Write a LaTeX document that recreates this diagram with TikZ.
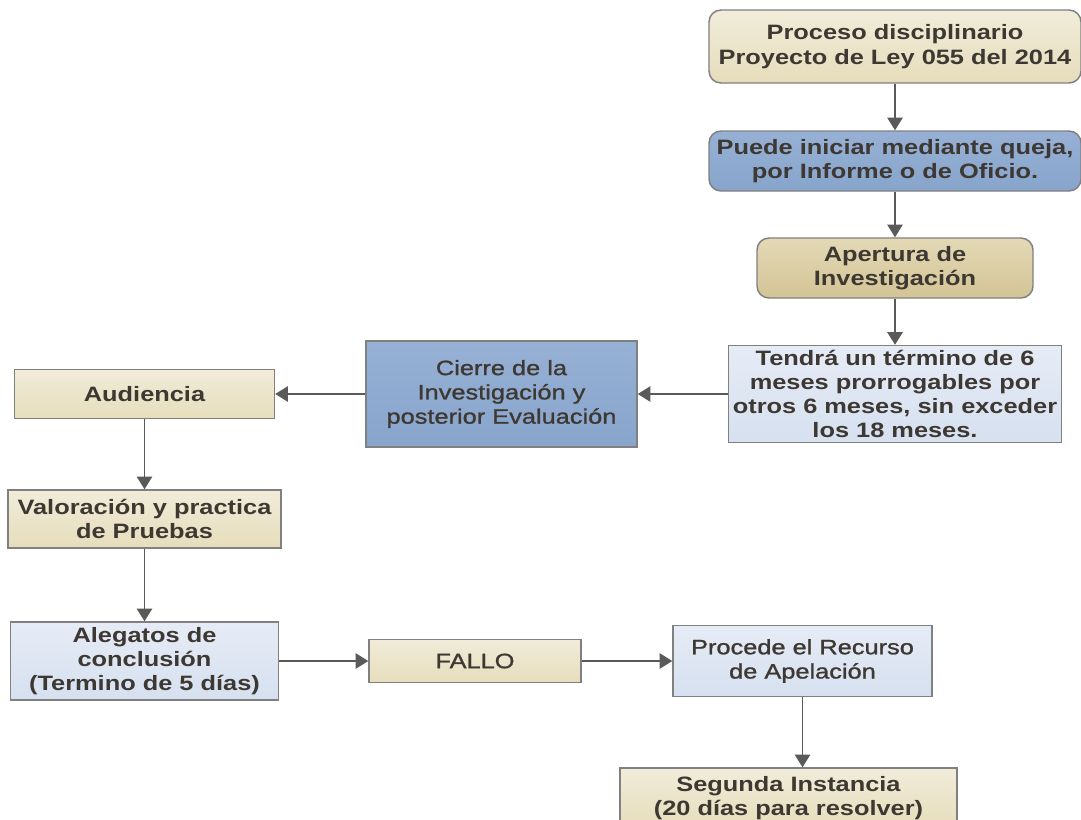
\documentclass[tikz,border=0pt]{standalone}
\usepackage{fontspec}
\usetikzlibrary{arrows.meta}
\newfontfamily\bxfont{Liberation Sans}[FakeStretch=1.22]
\newfontfamily\mdfont{Liberation Sans}[FakeStretch=1.22,FakeBold=1.2]
\definecolor{txt}{HTML}{3E3833}
\definecolor{bordergray}{HTML}{808080}
\definecolor{arrowgray}{HTML}{5A5A5A}
\definecolor{creamT}{HTML}{F1ECDA}
\definecolor{creamB}{HTML}{E6DDBB}
\definecolor{blueT}{HTML}{97B1D5}
\definecolor{blueB}{HTML}{87A4CB}
\definecolor{tanT}{HTML}{E4D9B6}
\definecolor{tanB}{HTML}{D3C495}
\definecolor{lblueT}{HTML}{E6ECF6}
\definecolor{lblueB}{HTML}{D6E0EF}
\tikzset{
  box/.style={draw=bordergray, line width=1.1pt, inner sep=0pt, align=center,
    text=txt, font=\bxfont\bfseries\fontsize{15.6}{18.2}\selectfont},
  thinbox/.style={box, font=\mdfont\fontsize{15.6}{18.2}\selectfont},
  cream/.style={top color=creamT, bottom color=creamB},
  bluef/.style={top color=blueT, bottom color=blueB},
  tanf/.style={top color=tanT, bottom color=tanB},
  lblue/.style={top color=lblueT, bottom color=lblueB},
  rnd/.style={rounded corners=9pt},
  conn/.style={draw=arrowgray, line width=1.3pt, -{Triangle[width=11.5pt,length=9.5pt]}}
}
\begin{document}
\begin{tikzpicture}[x=0.75pt,y=-0.75pt]
\useasboundingbox (0,0) rectangle (1081,819);
\fill[white] (0,0) rectangle (1081,819);
\clip (0,0) rectangle (1081,819);

\node[box,cream,rnd,minimum width=279pt,minimum height=54.75pt] (p1) at (895,46.5)
  {Proceso disciplinario\\Proyecto de Ley 055 del 2014};
\node[box,bluef,rnd,minimum width=279pt,minimum height=45pt] (p2) at (895,161)
  {Puede iniciar mediante queja,\\por Informe o de Oficio.};
\node[box,tanf,rnd,minimum width=207pt,minimum height=45pt] (p3) at (895,268)
  {Apertura de\\Investigación};
\node[box,lblue,minimum width=249.75pt,minimum height=72.75pt] (p4) at (895,394)
  {Tendrá un término de 6\\meses prorrogables por\\otros 6 meses, sin exceder\\los 18 meses.};
\node[thinbox,bluef,minimum width=203.25pt,minimum height=79.5pt] (cie) at (501.5,394)
  {Cierre de la\\Investigación y\\posterior Evaluación};
\node[box,cream,minimum width=195pt,minimum height=36.75pt] (aud) at (144.5,394)
  {Audiencia};
\node[box,cream,minimum width=204.75pt,minimum height=43.5pt] (val) at (144.5,519)
  {Valoración y practica\\de Pruebas};
\node[box,lblue,minimum width=201pt,minimum height=58.5pt] (ale) at (144.5,661)
  {Alegatos de\\conclusión\\(Termino de 5 días)};
\node[thinbox,cream,minimum width=159pt,minimum height=32.25pt] (fal) at (475,661)
  {FALLO};
\node[thinbox,lblue,minimum width=194.25pt,minimum height=53.25pt] (pro) at (802.5,661)
  {Procede el Recurso\\de Apelación};
\node[box,cream,minimum width=252.75pt,minimum height=45pt] (seg) at (788.5,798)
  {Segunda Instancia\\(20 días para resolver)};

\draw[conn] (p1.south) -- (p2.north);
\draw[conn] (p2.south) -- (p3.north);
\draw[conn] (p3.south) -- (p4.north);
\draw[conn] (p4.west) -- (cie.east);
\draw[conn] (cie.west) -- (aud.east);
\draw[conn] (aud.south) -- (val.north);
\draw[conn] (val.south) -- (ale.north);
\draw[conn] (ale.east) -- (fal.west);
\draw[conn] (fal.east) -- (pro.west);
\draw[conn] (pro.south) -- (pro.south |- seg.north);
\end{tikzpicture}
\end{document}
